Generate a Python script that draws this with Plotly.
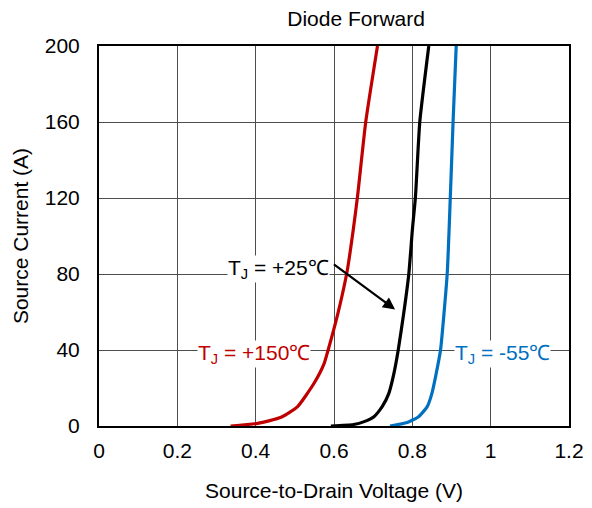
import plotly.graph_objects as go

# Data (V in volts, I in amps)
v_150 = [0.336, 0.4055, 0.465, 0.507, 0.549, 0.575, 0.585, 0.610, 0.634, 0.649, 0.660, 0.681, 0.711]
i_150 = [0.0, 1.4, 4.6, 10.2, 22.5, 33.0, 40.0, 59.3, 82.0, 103.0, 120.7, 160.0, 200.0]

v_25 = [0.592, 0.650, 0.677, 0.702, 0.723, 0.740, 0.753, 0.764, 0.778, 0.791, 0.800, 0.808, 0.819, 0.842]
i_25 = [0.0, 0.8, 2.3, 4.9, 10.2, 17.2, 27.7, 40.0, 59.3, 80.0, 103.0, 120.7, 160.0, 200.0]

v_m55 = [0.743, 0.787, 0.816, 0.838, 0.850, 0.861, 0.872, 0.889, 0.897, 0.904, 0.912]
i_m55 = [0.0, 1.9, 4.9, 10.2, 17.2, 27.7, 40.0, 80.0, 120.7, 160.0, 200.0]

x_ticks = [0, 0.2, 0.4, 0.6, 0.8, 1.0, 1.2]
x_tick_labels = ["0", "0.2", "0.4", "0.6", "0.8", "1", "1.2"]
y_ticks = [0, 40, 80, 120, 160, 200]

FONT = "Liberation Sans, Arial, sans-serif"
FS = 21

fig = go.Figure()
line_style = dict(width=3.2, shape="spline", smoothing=0.5)
fig.add_trace(go.Scatter(x=v_150, y=i_150, mode="lines", line=dict(color="#C00000", **line_style), showlegend=False))
fig.add_trace(go.Scatter(x=v_25, y=i_25, mode="lines", line=dict(color="#000000", **line_style), showlegend=False))
fig.add_trace(go.Scatter(x=v_m55, y=i_m55, mode="lines", line=dict(color="#0070C0", **line_style), showlegend=False))

ann = [
    dict(x=0.756, y=61.3, ax=0.596, ay=85.6, xref="x", yref="y", axref="x", ayref="y",
         text="", showarrow=True, arrowhead=2, arrowsize=1.1, arrowwidth=2.2, arrowcolor="#000000"),
    dict(x=0.458, y=82.5, xref="x", yref="y", text="T<sub>J</sub> = +25℃", showarrow=False,
         font=dict(family=FONT, size=FS, color="#000000"), bgcolor="white", borderpad=0),
    dict(x=0.397, y=38.0, xref="x", yref="y", text="T<sub>J</sub> = +150℃", showarrow=False,
         font=dict(family=FONT, size=FS, color="#C00000"), bgcolor="white", borderpad=0),
    dict(x=1.029, y=38.0, xref="x", yref="y", text="T<sub>J</sub> = -55℃", showarrow=False,
         font=dict(family=FONT, size=FS, color="#0070C0"), bgcolor="white", borderpad=0),
]

fig.update_layout(
    width=592, height=508,
    margin=dict(l=89, r=31, t=38, b=90),
    paper_bgcolor="white", plot_bgcolor="white",
    font=dict(family=FONT, size=FS, color="#000000"),
    title=dict(text="Diode Forward", x=0.588, xanchor="center", y=0.979, yanchor="middle",
               font=dict(family=FONT, size=FS, color="#000000")),
    annotations=ann,
    xaxis=dict(range=[0, 1.2], tickvals=x_ticks, ticktext=x_tick_labels,
               showgrid=True, gridcolor="#4d4d4d", gridwidth=1,
               showline=True, linecolor="black", linewidth=2, mirror=True,
               ticks="", zeroline=False, ticklabelstandoff=5,
               title=dict(text="Source-to-Drain Voltage (V)", standoff=22, font=dict(size=FS)),
               tickfont=dict(size=FS)),
    yaxis=dict(range=[0, 200], tickvals=y_ticks,
               showgrid=True, gridcolor="#4d4d4d", gridwidth=1,
               showline=True, linecolor="black", linewidth=2, mirror=True,
               ticks="", zeroline=False, ticklabelstandoff=13,
               title=dict(text="Source Current (A)", standoff=10, font=dict(size=FS)),
               tickfont=dict(size=FS)),
)

fig.write_html("out.html")
